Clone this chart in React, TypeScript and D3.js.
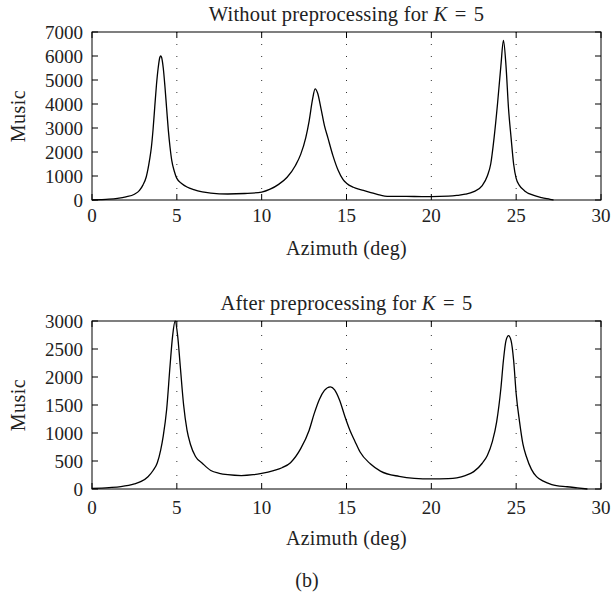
import React from "react";
import * as d3 from "d3";

// ---- data ----
const X_TICKS = [0, 5, 10, 15, 20, 25, 30];
const GRID_X = [5, 10, 15, 20, 25];
const TOP_Y_TICKS = [0, 1000, 2000, 3000, 4000, 5000, 6000, 7000];
const BOT_Y_TICKS = [0, 500, 1000, 1500, 2000, 2500, 3000];

const TOP_AZ = [0, 0.5, 1, 1.5, 2, 2.5, 2.8, 3, 3.2, 3.4, 3.5, 3.6, 3.7, 3.8, 3.9, 4, 4.05, 4.1, 4.2, 4.3, 4.4, 4.5, 4.6, 4.7, 4.85, 5, 5.3, 5.6, 6, 6.5, 7, 8, 9, 10, 10.5, 11, 11.5, 12, 12.3, 12.6, 12.8, 13, 13.15, 13.3, 13.5, 13.7, 13.9, 14.2, 14.5, 14.8, 15, 15.4, 16, 16.5, 17, 17.4, 18, 19, 20, 21, 21.5, 22, 22.5, 23, 23.3, 23.5, 23.7, 23.9, 24.1, 24.25, 24.4, 24.55, 24.7, 24.85, 25, 25.2, 25.5, 26, 26.5, 27, 27.2];
const TOP_MUSIC = [0, 15, 35, 70, 130, 240, 400, 620, 970, 1700, 2200, 2950, 3890, 4800, 5500, 5950, 6000, 5950, 5500, 4720, 3800, 2900, 2200, 1650, 1200, 900, 680, 540, 430, 340, 290, 250, 270, 330, 450, 650, 950, 1450, 1900, 2600, 3300, 4200, 4630, 4450, 3800, 3100, 2600, 1850, 1250, 850, 700, 530, 400, 300, 200, 155, 150, 145, 140, 160, 190, 240, 350, 600, 1000, 1500, 2600, 4000, 5600, 6650, 5600, 3800, 2600, 1500, 900, 600, 380, 200, 100, 30, 0];

const BOT_AZ = [0, 1, 1.7, 2.5, 2.9, 3.3, 3.6, 3.85, 4.05, 4.2, 4.4, 4.6, 4.75, 4.9, 5.05, 5.2, 5.4, 5.6, 5.8, 6.1, 6.5, 7, 7.5, 8, 8.8, 9.5, 10, 10.7, 11.2, 11.7, 12.3, 12.8, 13.1, 13.4, 13.7, 14.05, 14.3, 14.6, 14.9, 15.2, 15.5, 15.8, 16.4, 17, 18.1, 19, 20, 21, 21.5, 22, 22.5, 23, 23.3, 23.6, 23.85, 24.1, 24.25, 24.4, 24.55, 24.7, 24.85, 25, 25.2, 25.4, 25.6, 25.9, 26.2, 26.6, 27.1, 28, 28.6, 29.2];
const BOT_MUSIC = [10, 25, 42, 90, 135, 220, 330, 470, 700, 950, 1420, 2200, 2730, 3000, 2730, 2200, 1500, 1050, 800, 580, 460, 330, 280, 255, 240, 255, 280, 330, 380, 470, 720, 1050, 1350, 1600, 1760, 1825, 1770, 1580, 1300, 1050, 850, 660, 450, 320, 225, 190, 180, 185, 200, 240, 310, 460, 600, 850, 1200, 1800, 2300, 2650, 2740, 2650, 2300, 1700, 1200, 800, 580, 350, 220, 140, 80, 40, 20, 0];

const FONT = "'Liberation Serif', 'Times New Roman', serif";
const FS = 19;
const LABEL_FS = 20;
const TITLE_FS = 20.5;

type PanelProps = {
  top: number;
  bottom: number;
  yMax: number;
  yTicks: number[];
  az: number[];
  music: number[];
  title: string;
  titleY: number;
  tickLabelY: number;
  axisLabelY: number;
  dash: string;
};

const LEFT = 92;
const RIGHT = 601;

function Panel(p: PanelProps) {
  const x = d3.scaleLinear().domain([0, 30]).range([LEFT, RIGHT]);
  const y = d3.scaleLinear().domain([0, p.yMax]).range([p.bottom, p.top]);
  const pts: [number, number][] = p.az.map((a, i) => [a, p.music[i]]);
  const line = d3
    .line<[number, number]>()
    .x((d) => x(d[0]))
    .y((d) => y(d[1]))
    .curve(d3.curveMonotoneX);
  const tl = 6;
  const midX = (LEFT + RIGHT) / 2;
  const midY = (p.top + p.bottom) / 2;
  return (
    <g>
      {GRID_X.map((g) => (
        <line key={"g" + g} x1={x(g)} x2={x(g)} y1={p.top} y2={p.bottom} stroke="#000" strokeWidth={1} strokeDasharray={p.dash} opacity={0.8} />
      ))}
      <path d={line(pts) || ""} fill="none" stroke="#000" strokeWidth={1.3} strokeLinejoin="round" />
      <rect x={LEFT} y={p.top} width={RIGHT - LEFT} height={p.bottom - p.top} fill="none" stroke="#000" strokeWidth={1} />
      {X_TICKS.map((t) => (
        <g key={"x" + t}>
          <line x1={x(t)} x2={x(t)} y1={p.bottom} y2={p.bottom - tl} stroke="#000" />
          <line x1={x(t)} x2={x(t)} y1={p.top} y2={p.top + tl} stroke="#000" />
          <text x={x(t)} y={p.tickLabelY} textAnchor="middle" fontFamily={FONT} fontSize={FS} fill="#222">
            {t}
          </text>
        </g>
      ))}
      {p.yTicks.map((t) => (
        <g key={"y" + t}>
          <line x1={LEFT} x2={LEFT + tl} y1={y(t)} y2={y(t)} stroke="#000" />
          <line x1={RIGHT} x2={RIGHT - tl} y1={y(t)} y2={y(t)} stroke="#000" />
          <text x={83} y={y(t)} dy="0.35em" textAnchor="end" fontFamily={FONT} fontSize={FS} fill="#222">
            {t}
          </text>
        </g>
      ))}
      <text transform={`translate(25,${midY}) rotate(-90)`} textAnchor="middle" fontFamily={FONT} fontSize={LABEL_FS} letterSpacing={0.5} fill="#222">
        Music
      </text>
      <text x={midX} y={p.axisLabelY} textAnchor="middle" fontFamily={FONT} fontSize={LABEL_FS} letterSpacing={0.3} fill="#222">
        Azimuth (deg)
      </text>
      <text x={midX} y={p.titleY} textAnchor="middle" fontFamily={FONT} fontSize={TITLE_FS} letterSpacing={0.2} fill="#222">
        {p.title + " for "}
        <tspan fontStyle="italic">K</tspan>
        {" "}
        <tspan dx={2}>=</tspan>
        {" "}
        <tspan dx={2}>5</tspan>
      </text>
    </g>
  );
}

export default function App() {
  return (
    <svg width={614} height={597} style={{ position: "absolute", left: 0, top: 0, background: "#fff" }}>
      <rect width={614} height={597} fill="#fff" />
      <Panel
        top={32}
        bottom={200}
        yMax={7000}
        yTicks={TOP_Y_TICKS}
        az={TOP_AZ}
        music={TOP_MUSIC}
        title="Without preprocessing"
        titleY={21}
        tickLabelY={222}
        axisLabelY={255}
        dash="1 11"
      />
      <Panel
        top={321}
        bottom={489}
        yMax={3000}
        yTicks={BOT_Y_TICKS}
        az={BOT_AZ}
        music={BOT_MUSIC}
        title="After preprocessing"
        titleY={310}
        tickLabelY={514}
        axisLabelY={545}
        dash="1 13"
      />
      <text x={307} y={587} textAnchor="middle" fontFamily={FONT} fontSize={LABEL_FS} fill="#222">
        (b)
      </text>
    </svg>
  );
}
